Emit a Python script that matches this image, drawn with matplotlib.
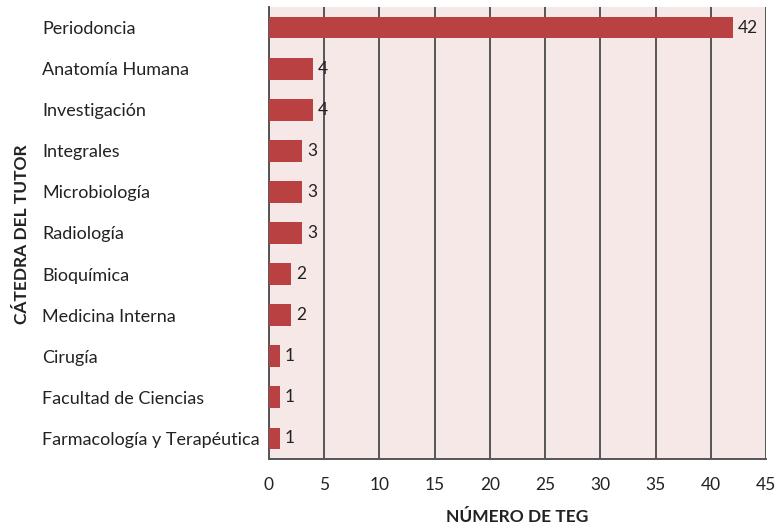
import matplotlib
matplotlib.use("Agg")
import matplotlib.pyplot as plt

categories = ["Periodoncia", "Anatomía Humana", "Investigación", "Integrales",
              "Microbiología", "Radiología", "Bioquímica", "Medicina Interna",
              "Cirugía", "Facultad de Ciencias", "Farmacología y Terapéutica"]
values = [42, 4, 4, 3, 3, 3, 2, 2, 1, 1, 1]
xticks = [0, 5, 10, 15, 20, 25, 30, 35, 40, 45]

plt.rcParams['font.family'] = ['Lato', 'DejaVu Sans']

fig = plt.figure(figsize=(7.77, 5.28), dpi=100)
ax = fig.add_axes([269/777, 1-459/528, (766-269)/777, (459-7)/528])
ax.set_facecolor('#F7E8E8')

ypos = list(range(len(categories)))
ax.barh(ypos, values, height=0.53, color='#B94141', zorder=3)
for y, v in zip(ypos, values):
    ax.text(v + 0.45, y, str(v), va='center', ha='left', fontsize=12.5, color='#222222', zorder=4)

ax.set_xlim(0, 45)
ax.set_ylim(len(categories) - 0.5, -0.5)
ax.set_xticks(xticks)
ax.set_xticklabels([str(t) for t in xticks], fontsize=12.5, color='#222222')
ax.set_yticks(ypos)
ax.set_yticklabels(categories, fontsize=13, color='#222222', ha='left')
ax.tick_params(axis='y', length=0, pad=(269-42)*0.72)
ax.tick_params(axis='x', length=0, pad=13)
ax.xaxis.grid(True, color='#555555', linewidth=1.4, zorder=1)
ax.set_axisbelow(True)
for s in ['top', 'right']:
    ax.spines[s].set_visible(False)
for s in ['left', 'bottom']:
    ax.spines[s].set_color('#555555')
    ax.spines[s].set_linewidth(1.4)

fig.text(517/777, 1-517/528, "NÚMERO DE TEG", ha='center', va='center',
         fontsize=12.5, fontweight='bold', color='#222222')
fig.text(22/777, 1-234/528, "CÁTEDRA DEL TUTOR", ha='center', va='center',
         rotation=90, fontsize=12.5, fontweight='bold', color='#222222')

fig.savefig("out.png", dpi=100)
